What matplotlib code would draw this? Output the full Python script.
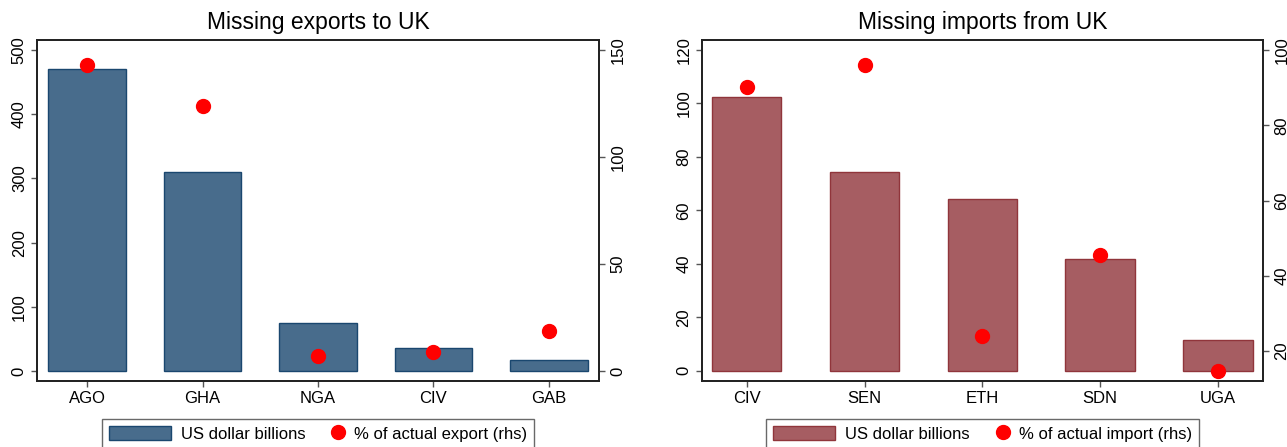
import numpy as np
import matplotlib
matplotlib.use("Agg")
import matplotlib.pyplot as plt
from matplotlib.lines import Line2D
from matplotlib.patches import Patch
from matplotlib.legend_handler import HandlerLine2D

# data
exp_countries = ['AGO', 'GHA', 'NGA', 'CIV', 'GAB']
exp_usd = [471, 310, 75.5, 36.5, 16.6]
exp_pct = [142.8, 123.8, 6.8, 9.0, 18.7]

imp_countries = ['CIV', 'SEN', 'ETH', 'SDN', 'UGA']
imp_usd = [102.4, 74.2, 64.1, 41.7, 11.4]
imp_pct = [90.2, 96.1, 23.9, 45.4, 14.8]

plt.rcParams['font.family'] = ['Liberation Sans', 'DejaVu Sans']
FS = 12


class RightMarker(HandlerLine2D):
    # put the dot near the right end of the handle box, like the Stata legend
    def get_xdata(self, legend, xdescent, ydescent, width, height, fontsize):
        m = -xdescent + width - 0.36 * fontsize
        xdata = np.array([m - 1.0, m + 1.0])
        return xdata, np.array([m])


def panel(fig, rect, cats, usd, pct, title, fill, edge, width, ylim, ylim2,
          yticks, yticks2, pct_label, xlim):
    ax = fig.add_axes(rect)
    x = np.arange(len(cats))
    ax.bar(x, usd, width=width, color=fill, edgecolor=edge, linewidth=1.0, zorder=2)
    ax.set_xlim(*xlim)
    ax.set_ylim(*ylim)
    ax.set_xticks(x)
    ax.set_xticklabels(cats)
    ax.set_yticks(yticks)
    ax.set_title(title, fontsize=16.5, pad=8)

    ax2 = ax.twinx()
    ax2.plot(x, pct, 'o', color='#ff0000', markersize=10, zorder=3)
    ax2.set_ylim(*ylim2)
    ax2.set_yticks(yticks2)

    for a in (ax, ax2):
        for s in a.spines.values():
            s.set_color('#222222')
            s.set_linewidth(1.3)
        a.tick_params(axis='both', labelsize=FS, length=4.3, width=1.0,
                      color='#555555', pad=3)
    ax.tick_params(axis='y', labelrotation=90)
    ax2.tick_params(axis='y', labelrotation=90, pad=4)
    for lab in ax.get_yticklabels() + ax2.get_yticklabels():
        lab.set_va('center')

    handles = [Patch(facecolor=fill, edgecolor=edge, linewidth=1.0),
               Line2D([], [], marker='o', color='#ff0000', linestyle='none', markersize=10)]
    labels = ['US dollar billions', pct_label]
    cx = rect[0] + rect[2] / 2
    leg = fig.legend(handles, labels, loc='upper center', bbox_to_anchor=(cx, 1 - 419 / 447),
                     borderaxespad=0, ncol=2, fontsize=FS, frameon=True, fancybox=False,
                     shadow=False, edgecolor='#444444', borderpad=0.42, handlelength=3.72,
                     handleheight=0.95, handletextpad=0.6, columnspacing=-1.38,
                     handler_map={handles[1]: RightMarker(numpoints=1)})
    leg.get_frame().set_linewidth(1.0)
    return ax


fig = plt.figure(figsize=(12.87, 4.47), dpi=100)

panel(fig, [37 / 1287, 1 - 381 / 447, 562 / 1287, 341 / 447],
      exp_countries, exp_usd, exp_pct, 'Missing exports to UK',
      '#486c8c', '#1a476f', 0.675, (-15.6, 515.6), (-4.67, 154.7),
      [0, 100, 200, 300, 400, 500], [0, 50, 100, 150],
      '% of actual export (rhs)', (-0.433, 4.433))

panel(fig, [701.7 / 1287, 1 - 381 / 447, 561.3 / 1287, 341 / 447],
      imp_countries, imp_usd, imp_pct, 'Missing imports from UK',
      '#a65d62', '#90353b', 0.59, (-3.85, 123.74), (12.03, 102.66),
      [0, 20, 40, 60, 80, 100, 120], [20, 40, 60, 80, 100],
      '% of actual import (rhs)', (-0.382, 4.382))

fig.savefig('out.png', dpi=100)
